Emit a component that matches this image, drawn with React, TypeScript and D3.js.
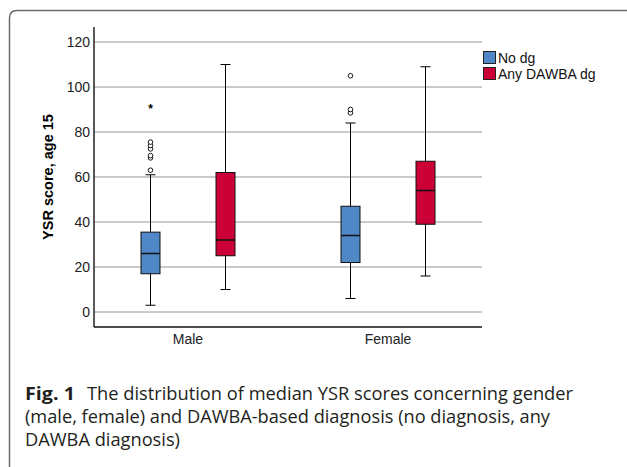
import React from "react";
import * as d3 from "d3";

const width = 627,
  height = 467;

// chart values
const genders = ["Male", "Female"];
const groups = ["No dg", "Any DAWBA dg"];
const groupColors = ["#4F87C7", "#CC0036"];
const lowWhisker = [
  [3, 10],
  [6, 16],
];
const q1 = [
  [17, 25],
  [22, 39],
];
const medians = [
  [26, 32],
  [34, 54],
];
const q3 = [
  [35.5, 62],
  [47, 67],
];
const highWhisker = [
  [61, 110],
  [84, 109],
];
const outliers = [
  [[63, 68.5, 69.5, 72.5, 74, 75.5], []],
  [[88.5, 90, 105], []],
];
const extremes = [
  [[91], []],
  [[], []],
];
const yTicks = [0, 20, 40, 60, 80, 100, 120];
const captionLines = [
  "The distribution of median YSR scores concerning gender",
  "(male, female) and DAWBA-based diagnosis (no diagnosis, any",
  "DAWBA diagnosis)",
];

const plot = { left: 94, right: 482, top: 27, bottom: 327 };
const boxWidth = 19;
const capWidth = 10;

export default function App() {
  const x = d3
    .scalePoint()
    .domain(genders)
    .range([plot.left, plot.right])
    .padding(0.47);
  const offset = d3
    .scalePoint()
    .domain(groups)
    .range([-37.5, 37.5]);
  const y = d3.scaleLinear().domain([0, 120]).range([312, 42]);
  const font = "'Liberation Sans', Arial, sans-serif";
  const capFont = "'Open Sans', 'Noto Sans', sans-serif";

  return (
    <svg
      width={width}
      height={height}
      style={{ position: "absolute", left: 0, top: 0, background: "#fff" }}
    >
      {/* frame */}
      <path
        d={`M9.5,${height + 5} V18 Q9.5,10.5 17,10.5 H${width + 5}`}
        fill="none"
        stroke="#6b6b6b"
        strokeWidth={1.5}
      />

      {/* gridlines */}
      {yTicks.map((t) => (
        <line
          key={t}
          x1={plot.left}
          x2={plot.right}
          y1={y(t)}
          y2={y(t)}
          stroke="#b8b8b8"
          strokeWidth={1.5}
        />
      ))}

      {/* tick labels */}
      {yTicks.map((t) => (
        <text
          key={"l" + t}
          x={plot.left - 4}
          y={y(t) + 5}
          textAnchor="end"
          fontFamily={font}
          fontSize={14}
          fill="#222"
        >
          {t}
        </text>
      ))}

      {/* boxes */}
      {genders.map((g, gi) =>
        groups.map((s, si) => {
          const cx = x(g)! + offset(s)!;
          return (
            <g key={g + s}>
              <line
                x1={cx}
                x2={cx}
                y1={y(highWhisker[gi][si])}
                y2={y(lowWhisker[gi][si])}
                stroke="#000"
                strokeWidth={1}
              />
              <line
                x1={cx - capWidth / 2}
                x2={cx + capWidth / 2}
                y1={y(highWhisker[gi][si])}
                y2={y(highWhisker[gi][si])}
                stroke="#000"
                strokeWidth={1}
              />
              <line
                x1={cx - capWidth / 2}
                x2={cx + capWidth / 2}
                y1={y(lowWhisker[gi][si])}
                y2={y(lowWhisker[gi][si])}
                stroke="#000"
                strokeWidth={1}
              />
              <rect
                x={cx - boxWidth / 2}
                y={y(q3[gi][si])}
                width={boxWidth}
                height={y(q1[gi][si]) - y(q3[gi][si])}
                fill={groupColors[si]}
                stroke="#111"
                strokeWidth={1}
              />
              <line
                x1={cx - boxWidth / 2}
                x2={cx + boxWidth / 2}
                y1={y(medians[gi][si])}
                y2={y(medians[gi][si])}
                stroke="#111"
                strokeWidth={1.5}
              />
              {outliers[gi][si].map((v, i) => (
                <circle
                  key={i}
                  cx={cx}
                  cy={y(v)}
                  r={2.3}
                  fill="#fff"
                  stroke="#000"
                  strokeWidth={0.9}
                />
              ))}
              {extremes[gi][si].map((v, i) => (
                <text
                  key={"e" + i}
                  x={cx}
                  y={y(v) + 6}
                  textAnchor="middle"
                  fontFamily={font}
                  fontSize={12}
                  fontWeight="bold"
                >
                  *
                </text>
              ))}
            </g>
          );
        }),
      )}

      {/* axes */}
      <line
        x1={plot.left}
        x2={plot.left}
        y1={plot.top}
        y2={plot.bottom}
        stroke="#222"
        strokeWidth={1.5}
      />
      <line
        x1={plot.left}
        x2={plot.right}
        y1={plot.bottom}
        y2={plot.bottom}
        stroke="#111"
        strokeWidth={1.5}
      />

      {/* category labels */}
      {genders.map((g) => (
        <text
          key={g}
          x={x(g)!}
          y={plot.bottom + 17}
          textAnchor="middle"
          fontFamily={font}
          fontSize={14}
          fill="#222"
        >
          {g}
        </text>
      ))}

      {/* y title */}
      <text
        transform={`translate(53,${(plot.top + plot.bottom) / 2}) rotate(-90)`}
        textAnchor="middle"
        fontFamily={font}
        fontSize={14.5}
        fontWeight="bold"
      >
        YSR score, age 15
      </text>

      {/* legend */}
      {groups.map((s, i) => (
        <g key={s} transform={`translate(483.5,${51.5 + i * 16})`}>
          <rect
            width={12}
            height={12}
            fill={groupColors[i]}
            stroke="#222"
            strokeWidth={1}
          />
          <text x={14.5} y={11.5} fontFamily={font} fontSize={14} fill="#111">
            {s}
          </text>
        </g>
      ))}

      {/* caption */}
      <text
        x={25}
        y={400}
        fontFamily={capFont}
        fontSize={18}
        fontWeight="bold"
        fill="#231f20"
        textLength={50}
        lengthAdjust="spacingAndGlyphs"
      >
        Fig. 1
      </text>
      <text
        x={87}
        y={400}
        fontFamily={capFont}
        fontSize={18}
        fill="#231f20"
        textLength={486}
        lengthAdjust="spacingAndGlyphs"
      >
        {captionLines[0]}
      </text>
      <text
        x={25}
        y={423}
        fontFamily={capFont}
        fontSize={18}
        fill="#231f20"
        textLength={525}
        lengthAdjust="spacingAndGlyphs"
      >
        {captionLines[1]}
      </text>
      <text
        x={25}
        y={445.5}
        fontFamily={capFont}
        fontSize={18}
        fill="#231f20"
        textLength={155}
        lengthAdjust="spacingAndGlyphs"
      >
        {captionLines[2]}
      </text>
    </svg>
  );
}
